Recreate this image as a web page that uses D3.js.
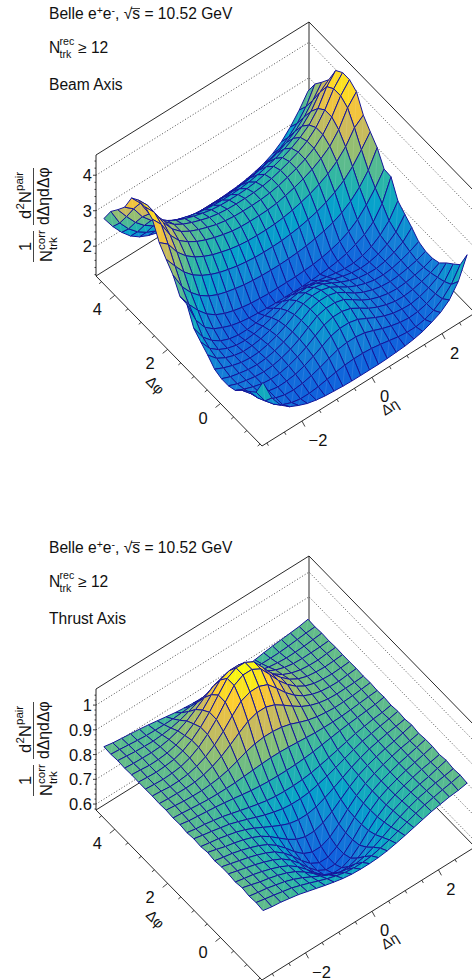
<!DOCTYPE html>
<html>
<head>
<meta charset="utf-8">
<script src="https://cdn.jsdelivr.net/npm/d3@7"></script>
<style>
  html, body { margin: 0; padding: 0; background: #fff; }
  svg { display: block; }
  text { font-family: "Liberation Sans", Arial, sans-serif; fill: #111; }
</style>
</head>
<body>
<div id="chart"></div>
<script>
// Both surfaces are mirrored histograms (in deta about 0, in dphi about 0 and pi),
// so only one quadrant is read off the picture.
// One row per dphi bin from 0 to pi, one column per |deta| bin from 0 to the edge.
const beamRows = [
  [2.15,2.08,1.92,1.75,1.62,1.53,1.47,1.45,1.47,1.52,1.58,1.68],
  [2.10,2.03,1.88,1.72,1.60,1.51,1.45,1.44,1.47,1.54,1.63,1.75],
  [1.98,1.92,1.79,1.66,1.55,1.47,1.43,1.42,1.47,1.56,1.70,1.95],
  [1.78,1.74,1.65,1.55,1.47,1.41,1.38,1.40,1.47,1.59,1.78,2.12],
  [1.52,1.50,1.46,1.41,1.36,1.33,1.33,1.38,1.48,1.65,1.90,2.30],
  [1.25,1.25,1.26,1.28,1.30,1.34,1.40,1.50,1.62,1.82,2.18,2.78],
  [1.32,1.32,1.34,1.36,1.40,1.46,1.54,1.66,1.84,2.10,2.42,2.80],
  [1.62,1.63,1.65,1.68,1.73,1.79,1.87,1.99,2.16,2.40,2.72,3.20],
  [1.93,1.94,1.97,2.01,2.07,2.14,2.24,2.37,2.54,2.78,3.10,3.45],
  [2.20,2.21,2.24,2.29,2.36,2.44,2.55,2.69,2.88,3.14,3.52,3.72],
  [2.40,2.41,2.44,2.50,2.57,2.66,2.77,2.92,3.11,3.42,3.88,4.18],
  [2.49,2.50,2.53,2.58,2.66,2.75,2.86,3.01,3.24,3.58,4.02,4.32]
];
const thrustRows = [
  [.606,.626,.660,.700,.735,.762,.780,.794,.806,.816,.826,.836],
  [.621,.637,.667,.704,.737,.763,.781,.795,.807,.817,.824,.832],
  [.654,.666,.688,.716,.744,.768,.785,.798,.808,.816,.827,.837],
  [.694,.701,.716,.734,.753,.772,.788,.801,.810,.819,.825,.832],
  [.728,.732,.741,.752,.765,.779,.792,.804,.812,.820,.827,.835],
  [.752,.754,.759,.767,.776,.786,.796,.806,.813,.820,.824,.831],
  [.785,.786,.789,.793,.799,.805,.811,.816,.820,.824,.828,.835],
  [.830,.828,.825,.822,.819,.818,.818,.819,.822,.826,.830,.833],
  [.885,.880,.870,.855,.842,.833,.828,.825,.826,.828,.832,.836],
  [.955,.942,.918,.892,.868,.850,.838,.831,.829,.830,.831,.834],
  [1.010,.995,.958,.918,.885,.860,.844,.834,.830,.829,.833,.836],
  [1.050,1.030,.985,.938,.900,.870,.849,.837,.832,.830,.832,.835]
];

const beamZTicks = [2, 3, 4];
const thrustZTicks = [0.6, 0.7, 0.8, 0.9, 1];
const beamZMinor = [1.2, 1.4, 1.6, 1.8, 2.2, 2.4, 2.6, 2.8, 3.2, 3.4, 3.6, 3.8, 4.2, 4.4];
const thrustZMinor = [0.58, 0.62, 0.64, 0.66, 0.68, 0.72, 0.74, 0.76, 0.78, 0.82, 0.84, 0.86, 0.88, 0.92, 0.94, 0.96, 0.98, 1.02, 1.04];
const phiMajor = [0, 2, 4];
const phiMinor = [-1.5, -1, -0.5, 0.5, 1, 1.5, 2.5, 3, 3.5, 4.5];
const etaMajor = [-2, 0, 2];
const etaMinor = [-3, -2.5, -1.5, -1, -0.5, 0.5, 1, 1.5, 2.5];

// ROOT kBird palette
const birdStops = [0, 0.125, 0.25, 0.375, 0.5, 0.625, 0.75, 0.875, 1];
const birdColors = ['#352a87', '#0f5cdd', '#1481d6', '#06a4ca', '#2eb7a4', '#87bf77', '#d1bb59', '#fec832', '#f9fb0e'];

const panels = [
  { offset: 0, rows: beamRows, zDomain: [1.16, 4.57], colorDomain: [0.8, 4.4], etaDomain: [-3.14, 2.94],
    zTicks: beamZTicks, zMinor: beamZMinor, axisName: 'Beam Axis' },
  { offset: 534, rows: thrustRows, zDomain: [0.576, 1.065], colorDomain: [0.54, 1.05], etaDomain: [-3.31, 3.1],
    zTicks: thrustZTicks, zMinor: thrustZMinor, axisName: 'Thrust Axis' }
];

const svg = d3.select('#chart').append('svg').attr('width', 472).attr('height', 980);
const phiDomain = [-Math.PI / 2, 3 * Math.PI / 2];
const lineColor = '#14149a';

panels.forEach(drawPanel);

function drawPanel(p) {
  const g = svg.append('g').attr('transform', `translate(0, ${p.offset})`);

  // Oblique box: left floor corner at (96, 276), deta runs up-right, dphi runs down-right
  const etaX = d3.scaleLinear().domain(p.etaDomain).range([0, 213]);
  const etaY = d3.scaleLinear().domain(p.etaDomain).range([0, -133]);
  const phiX = d3.scaleLinear().domain([phiDomain[1], phiDomain[0]]).range([0, 166]);
  const phiY = d3.scaleLinear().domain([phiDomain[1], phiDomain[0]]).range([0, 170]);
  const zY = d3.scaleLinear().domain(p.zDomain).range([0, -121]);
  const project = (eta, phi, z) => [
    96 + phiX(phi) + etaX(eta),
    276 + phiY(phi) + etaY(eta) + zY(z)
  ];

  const [etaLo, etaHi] = p.etaDomain;
  const [phiLo, phiHi] = phiDomain;
  const [zLo, zHi] = p.zDomain;
  const line = d3.line();

  const box = [
    [[etaLo, phiHi, zLo], [etaLo, phiHi, zHi], [etaHi, phiHi, zHi], [etaHi, phiLo, zHi]],
    [[etaLo, phiHi, zLo], [etaHi, phiHi, zLo], [etaHi, phiLo, zLo]],
    [[etaHi, phiHi, zLo], [etaHi, phiHi, zHi]],
    [[etaLo, phiHi, zLo], [etaLo, phiLo, zLo], [etaHi, phiLo, zLo]]
  ];
  g.selectAll('.box').data(box).join('path')
    .attr('class', 'box')
    .attr('d', d => line(d.map(c => project(...c))))
    .attr('fill', 'none').attr('stroke', '#111').attr('stroke-width', 0.9);

  // Dotted z grid on the two back walls
  g.selectAll('.grid').data(p.zTicks).join('path')
    .attr('class', 'grid')
    .attr('d', z => line([project(etaLo, phiHi, z), project(etaHi, phiHi, z), project(etaHi, phiLo, z)]))
    .attr('fill', 'none').attr('stroke', '#222').attr('stroke-width', 0.8)
    .attr('stroke-dasharray', '1,2');

  // Surface through the bin centres, painted from the back corner forward
  const nodes = 24;
  const etaStep = (etaHi - etaLo) / nodes;
  const phiStep = (phiHi - phiLo) / nodes;
  const heightAt = (i, j) => {
    const col = i >= 12 ? i - 12 : 11 - i;
    const row = j < 6 ? 5 - j : (j < 18 ? j - 6 : 29 - j);
    return p.rows[row][col];
  };
  const corner = (i, j) => project(etaLo + (i + 0.5) * etaStep, phiLo + (j + 0.5) * phiStep, heightAt(i, j));

  const color = d3.scaleLinear()
    .domain(birdStops.map(t => p.colorDomain[0] + t * (p.colorDomain[1] - p.colorDomain[0])))
    .range(birdColors).clamp(true);

  const cells = [];
  for (let j = nodes - 2; j >= 0; j--) {
    for (let i = nodes - 2; i >= 0; i--) {
      cells.push({ i, j });
    }
  }
  const cell = g.selectAll('.cell').data(cells).join('g').attr('class', 'cell');
  cell.append('path')
    .attr('d', d => line([corner(d.i, d.j), corner(d.i + 1, d.j), corner(d.i + 1, d.j + 1), corner(d.i, d.j + 1)]) + 'Z')
    .attr('fill', d => color((heightAt(d.i, d.j) + heightAt(d.i + 1, d.j) + heightAt(d.i + 1, d.j + 1) + heightAt(d.i, d.j + 1)) / 4))
    .attr('stroke', lineColor).attr('stroke-width', 1).attr('stroke-linejoin', 'round');
  // The faint seam each cell shows in the original
  cell.append('path')
    .attr('d', d => line([corner(d.i, d.j), corner(d.i + 1, d.j + 1)]))
    .attr('stroke', '#fff').attr('stroke-opacity', 0.16).attr('stroke-width', 0.6);

  // z axis ticks and labels
  const zTick = (vals, len) => g.selectAll(null).data(vals).join('path')
    .attr('d', z => {
      const [x, y] = project(etaLo, phiHi, z);
      return line([[x - len, y], [x, y]]);
    })
    .attr('stroke', '#111').attr('stroke-width', 0.8);
  zTick(p.zTicks, 3);
  zTick(p.zMinor, 1.5);
  g.selectAll('.zlabel').data(p.zTicks).join('text')
    .attr('class', 'zlabel')
    .attr('x', 92)
    .attr('y', z => project(etaLo, phiHi, z)[1] + 6)
    .attr('text-anchor', 'end')
    .style('font-size', '16.5px')
    .text(z => z);

  // dphi axis along the left floor edge
  const phiTick = (vals, s) => g.selectAll(null).data(vals).join('path')
    .attr('d', v => {
      const [x, y] = project(etaLo, v, zLo);
      return line([[x, y], [x - 5 * s, y + 4 * s]]);
    })
    .attr('stroke', '#111').attr('stroke-width', 0.8);
  phiTick(phiMajor, 1);
  phiTick(phiMinor, 0.5);
  g.selectAll('.philabel').data(phiMajor).join('text')
    .attr('class', 'philabel')
    .attr('x', v => project(etaLo, v, zLo)[0] - 17.5)
    .attr('y', v => project(etaLo, v, zLo)[1] + 20)
    .attr('text-anchor', 'middle')
    .style('font-size', '16.5px')
    .text(v => v);

  // deta axis along the front floor edge
  const etaTick = (vals, s) => g.selectAll(null).data(vals).join('path')
    .attr('d', v => {
      const [x, y] = project(v, phiLo, zLo);
      return line([[x, y], [x + 3 * s, y + 5.5 * s]]);
    })
    .attr('stroke', '#111').attr('stroke-width', 0.8);
  etaTick(etaMajor, 1);
  etaTick(etaMinor, 0.5);
  g.selectAll('.etalabel').data(etaMajor).join('text')
    .attr('class', 'etalabel')
    .attr('x', v => project(v, phiLo, zLo)[0] + (v < 0 ? 16 : 12.5))
    .attr('y', v => project(v, phiLo, zLo)[1] + 25)
    .attr('text-anchor', 'middle')
    .style('font-size', '16.5px')
    .text(v => (v < 0 ? '\u2212' + Math.abs(v) : v));

  // Axis titles
  g.append('text').attr('transform', 'translate(145, 382) rotate(45)')
    .style('font-size', '14.5px').text('\u0394\u03c6');
  g.append('text').attr('transform', 'translate(385, 416) rotate(-32)')
    .style('font-size', '14.5px').text('\u0394\u03b7');

  drawCaption(g, p.axisName);
  drawZTitle(g);
}

function addPieces(t, pieces) {
  let shift = 0;
  pieces.forEach(([str, rise, size, gap]) => {
    t.append('tspan')
      .attr('dy', -rise - shift)
      .attr('dx', gap || 0)
      .style('font-size', size ? size + 'px' : null)
      .text(str);
    shift = -rise;
  });
}

function drawCaption(g, axisName) {
  const size = 15.6;
  const first = g.append('text').attr('x', 49).attr('y', 19).style('font-size', size + 'px');
  addPieces(first, [['Belle e', 0], ['+', 5, 10.5], ['e', 0], ['-', 5, 10.5], [', ', 0], ['\u221as', 0], [' = 10.52 GeV', 0]]);
  g.append('path').attr('d', 'M131 8.5H140').attr('stroke', '#111').attr('stroke-width', 0.8);

  g.append('text').attr('x', 49).attr('y', 53).style('font-size', size + 'px').text('N');
  g.append('text').attr('x', 59.5).attr('y', 45).style('font-size', '10.6px').text('rec');
  g.append('text').attr('x', 59.5).attr('y', 58).style('font-size', '10.6px').text('trk');
  g.append('text').attr('x', 78).attr('y', 53).style('font-size', size + 'px').text('\u2265 12');

  g.append('text').attr('x', 49).attr('y', 90).style('font-size', size + 'px').text(axisName);
}

function drawZTitle(g) {
  const rotated = (x, y, size, str, anchor) => g.append('text')
    .attr('transform', `translate(${x}, ${y}) rotate(-90)`)
    .attr('text-anchor', anchor || 'start')
    .style('font-size', size + 'px')
    .text(str);
  rotated(30.5, 246.5, 16.5, '1', 'middle');
  rotated(52, 262, 16.5, 'N');
  rotated(44.5, 250, 11.5, 'corr');
  rotated(57, 250, 11.5, 'trk');
  rotated(30.5, 219, 16.5, 'd');
  rotated(24, 209.5, 11.5, '2');
  rotated(30.5, 203, 16.5, 'N');
  rotated(22.5, 191, 11.5, 'pair');
  rotated(49, 225, 15.8, 'd\u0394\u03b7d\u0394\u03c6');
  g.selectAll('.fracbar').data([[231, 262], [168, 225]]).join('path')
    .attr('class', 'fracbar')
    .attr('d', d => `M33.5 ${d[0]}V${d[1]}`)
    .attr('stroke', '#444').attr('stroke-width', 1);
}
</script>
</body>
</html>
